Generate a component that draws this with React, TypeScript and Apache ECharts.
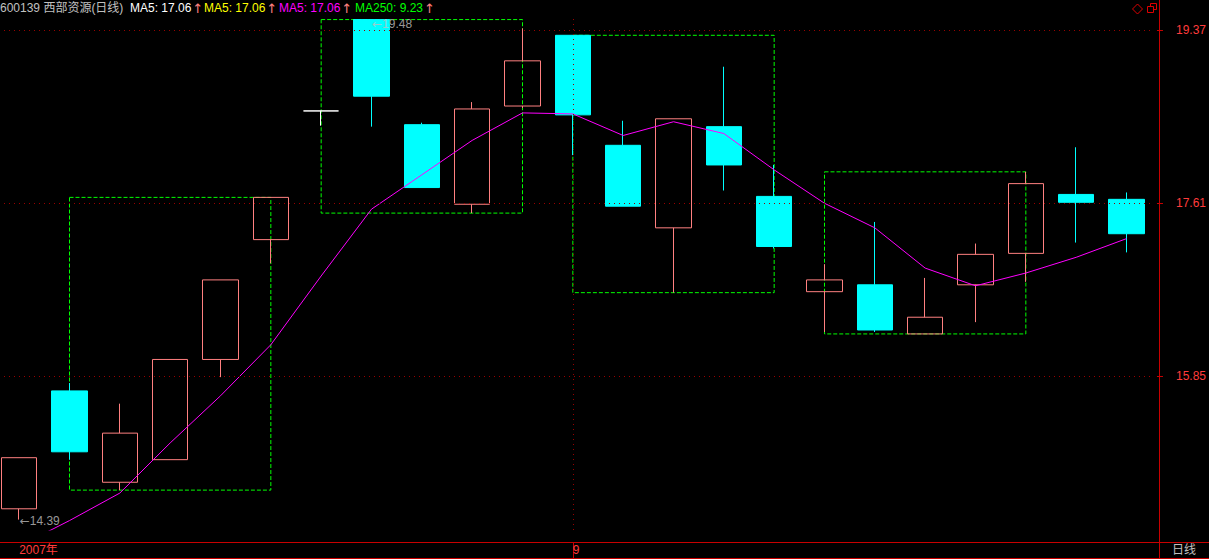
import React, { useEffect, useRef } from 'react';
import * as echarts from 'echarts';

// ---- data ----
const xLabels = ['2007年', '', '', '', '', '', '', '', '', '', '', '9', '', '', '', '', '', '', '', '', '', '', ''];
const monthBreaks = [11];
const opens = [14.5, 15.7, 14.77, 15.0, 16.02, 17.24, 18.55, 19.48, 18.41, 17.6, 18.6, 19.32, 18.2, 17.36, 18.39, 17.68, 16.71, 16.78, 16.28, 16.78, 17.1, 17.7, 17.65];
const closes = [15.02, 15.08, 15.27, 16.02, 16.83, 17.67, 18.55, 18.7, 17.77, 18.57, 19.06, 18.51, 17.58, 18.47, 18.0, 17.17, 16.83, 16.32, 16.45, 17.09, 17.81, 17.62, 17.3];
const lows = [14.39, 15.0, 14.69, 15.0, 15.84, 17.0, 18.4, 18.39, 17.77, 17.51, 18.58, 18.1, 17.58, 16.7, 17.74, 17.15, 16.3, 16.3, 16.28, 16.4, 16.81, 17.21, 17.11];
const highs = [15.02, 15.78, 15.57, 16.02, 16.83, 17.67, 18.55, 19.48, 18.43, 18.64, 19.39, 19.32, 18.45, 18.47, 19.0, 18.0, 16.99, 17.42, 16.85, 17.2, 17.93, 18.18, 17.72];
const ma5 = [14.12, 14.38, 14.66, 15.17, 15.65, 16.17, 16.87, 17.55, 17.9, 18.25, 18.53, 18.52, 18.3, 18.44, 18.32, 17.95, 17.61, 17.36, 16.95, 16.77, 16.9, 17.06, 17.25];
const boxRanges = [[1, 5], [6, 10], [11, 15], [16, 20]];
const yTicks = [15.85, 17.61, 19.37];
const yMin = 14.284;
const yMax = 19.496;
const stockTitle = '600139 西部资源(日线)';
const legendNames = ['MA5', 'MA5', 'MA5', 'MA250'];
const legendValues = [17.06, 17.06, 17.06, 9.23];
const periodLabel = '日线';

const FONT = "'Liberation Sans', Arial, 'Noto Sans CJK SC', sans-serif";
const legendColors = ['#ffffff', '#ffff00', '#ff00ff', '#00ff00'];
const legendX = [130, 204, 279, 355];
const RED = '#c80000';
const SHIFT = 6; // chart canvas starts 6px left of the page so the first band is partly cut off
const W = 1209 + SHIFT;

export default function App() {
  const ref = useRef<HTMLDivElement>(null);
  useEffect(() => {
    if (!ref.current) return;
    const chart = echarts.init(ref.current, null, { renderer: 'svg' });
    const categories = xLabels.map((_, i) => 'd' + i);
    const candles = opens.map((o, i) => [o, closes[i], lows[i], highs[i]]);
    const boxes = boxRanges.map(([a, b]) => {
      const top = Math.max(...highs.slice(a, b + 1));
      const bot = Math.min(...lows.slice(a, b + 1));
      return [{ coord: [a, top] }, { coord: [b, bot] }];
    });
    const maxIdx = highs.indexOf(Math.max(...highs));
    const minIdx = lows.indexOf(Math.min(...lows));
    const X = (x: number) => x + SHIFT;

    const legendGraphics = legendNames.map((n, i) => ({
      type: 'text',
      x: X(legendX[i]),
      y: 8,
      style: {
        text: `{v|${n}: ${legendValues[i].toFixed(2)}}{a|↑}`,
        verticalAlign: 'middle',
        rich: {
          v: { fill: legendColors[i], fontSize: 12, fontFamily: FONT },
          a: { fill: '#ff8080', fontSize: 13, fontFamily: 'DejaVu Sans', padding: [0, 0, 0, 1] },
        },
      },
    }));

    chart.setOption({
      animation: false,
      backgroundColor: '#000000',
      grid: { left: 0, right: 55.3, top: 18, bottom: 29 },
      xAxis: {
        type: 'category',
        data: categories,
        boundaryGap: true,
        offset: 12,
        axisLine: { show: false },
        axisTick: {
          show: true,
          alignWithLabel: true,
          interval: (i: number) => monthBreaks.includes(i),
          length: 16,
          lineStyle: { color: RED },
        },
        axisLabel: {
          interval: (i: number) => xLabels[i] !== '',
          formatter: (_v: string, i: number) => xLabels[i],
          align: 'left',
          margin: 2,
          color: '#ff3c3c',
          fontSize: 12,
          fontFamily: FONT,
        },
        splitLine: { show: false },
      },
      yAxis: {
        type: 'value',
        position: 'right',
        min: yMin,
        max: yMax,
        offset: 5.3,
        axisLine: { show: false },
        axisTick: { show: true, customValues: yTicks, length: 6, lineStyle: { color: RED } },
        axisLabel: {
          customValues: yTicks,
          formatter: (v: number) => v.toFixed(2),
          margin: 19,
          color: '#ff3c3c',
          fontSize: 12,
          fontFamily: FONT,
        },
        splitLine: { show: false },
      },
      series: [
        {
          type: 'candlestick',
          data: candles,
          barWidth: 36,
          z: 3,
          itemStyle: {
            color: 'transparent',
            color0: '#00ffff',
            borderColor: '#ff8080',
            borderColor0: '#00ffff',
            borderColorDoji: '#ffffff',
            borderWidth: 1,
          },
          markArea: {
            silent: true,
            itemStyle: { color: 'transparent', borderColor: '#00ff00', borderWidth: 1, borderType: [4, 2] },
            data: boxes,
          },
          markLine: {
            silent: true,
            symbol: ['none', 'none'],
            label: { show: false },
            lineStyle: { color: '#990000', type: [1, 4], width: 1 },
            data: [...yTicks.map((v) => ({ yAxis: v })), ...monthBreaks.map((i) => ({ xAxis: i }))],
          },
        },
        {
          type: 'line',
          data: ma5,
          symbol: 'none',
          z: 4,
          clip: true,
          lineStyle: { color: '#ff00ff', width: 1 },
        },
        {
          type: 'scatter',
          z: 5,
          symbolSize: 1,
          itemStyle: { color: 'transparent' },
          data: [
            { value: [maxIdx, highs[maxIdx]], label: { offset: [0, 4] } },
            { value: [minIdx, lows[minIdx]], label: { offset: [0, 1] } },
          ],
          label: {
            show: true,
            position: 'right',
            distance: 0,
            formatter: (p: any) => '{a|←}' + p.value[1].toFixed(2),
            color: '#c0c0c0',
            fontSize: 12,
            fontFamily: FONT,
            rich: { a: { color: '#c0c0c0', fontSize: 12, fontFamily: 'DejaVu Sans' } },
          },
        },
      ],
      graphic: [
        {
          type: 'text',
          x: X(0),
          y: 8,
          style: { text: stockTitle, fill: '#c0c0c0', fontSize: 12, fontFamily: FONT, verticalAlign: 'middle' },
        },
        ...legendGraphics,
        {
          type: 'polygon',
          shape: { points: [[X(1137.5), 4], [X(1142.5), 9], [X(1137.5), 14], [X(1132.5), 9]] },
          style: { fill: 'none', stroke: '#dd0000', lineWidth: 1 },
        },
        {
          type: 'rect',
          shape: { x: X(1150.5), y: 3.5, width: 6, height: 6 },
          style: { fill: 'none', stroke: '#dd0000', lineWidth: 1 },
        },
        {
          type: 'rect',
          shape: { x: X(1147.5), y: 6.5, width: 6, height: 6 },
          style: { fill: '#000', stroke: '#dd0000', lineWidth: 1 },
        },
        {
          type: 'line',
          shape: { x1: X(1159.5), y1: 0, x2: X(1159.5), y2: 559 },
          style: { stroke: RED, lineWidth: 1 },
        },
        {
          type: 'line',
          shape: { x1: 0, y1: 542.5, x2: W, y2: 542.5 },
          style: { stroke: RED, lineWidth: 1 },
        },
        {
          type: 'line',
          shape: { x1: 0, y1: 558.5, x2: W, y2: 558.5 },
          style: { stroke: RED, lineWidth: 1 },
        },
        {
          type: 'text',
          x: X(1172),
          y: 550,
          style: { text: periodLabel, fill: '#c0c0c0', fontSize: 12, fontFamily: FONT, verticalAlign: 'middle' },
        },
      ],
    });
    return () => chart.dispose();
  }, []);
  return (
    <div
      ref={ref}
      style={{ position: 'fixed', left: -SHIFT, top: 0, width: W, height: 559, background: '#000' }}
    />
  );
}
